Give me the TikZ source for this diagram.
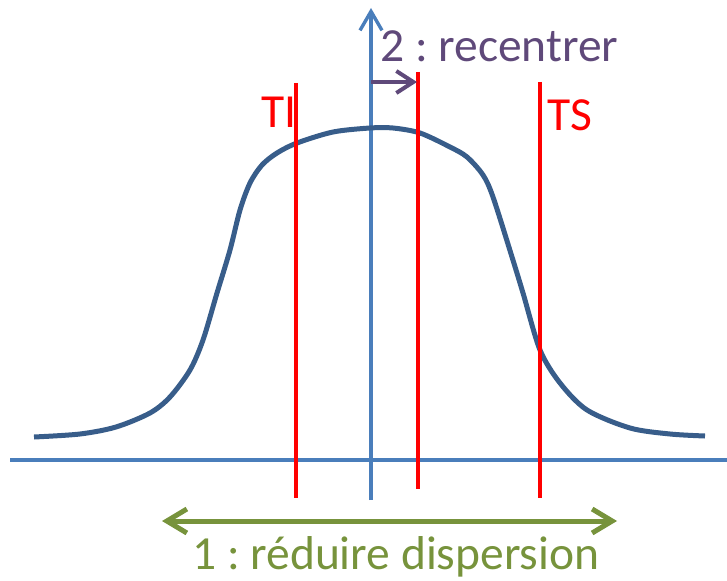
\documentclass[tikz,border=0pt]{standalone}
\usepackage{fontspec}
\setmainfont{Carlito}
\usetikzlibrary{arrows.meta}
\definecolor{axisblue}{HTML}{4A7EBB}
\definecolor{curveblue}{HTML}{385D8A}
\definecolor{limred}{HTML}{FF0000}
\definecolor{purp}{HTML}{5F497A}
\definecolor{grn}{HTML}{77933C}
\tikzset{
  axisline/.style={draw=axisblue, line width=3.6pt},
  limline/.style={draw=limred, line width=3.4pt},
  lbl/.style={inner sep=0pt, anchor=base west, font=\fontsize{47.5pt}{50pt}\selectfont}
}
\frenchspacing
\begin{document}
\begin{tikzpicture}[x=1pt, y=-1pt]
\useasboundingbox (0,0) rectangle (727,580);
% coordinates
\coordinate (hl) at (10,460);
\coordinate (hr) at (727,460);
\coordinate (vb) at (371,500);
\coordinate (vt) at (371,8);
\coordinate (tit) at (296,83);
\coordinate (tib) at (296,498);
\coordinate (mt) at (418,72);
\coordinate (mb) at (418,489);
\coordinate (tst) at (540,82);
\coordinate (tsb) at (540,498);
\coordinate (pa) at (371,82);
\coordinate (pb) at (417,82);
\coordinate (ga) at (162,521);
\coordinate (gb) at (617,521);
% axes
\draw[axisline] (hl) -- (hr);
\draw[axisline, -{Straight Barb[length=19pt, width=22pt, line width=3.4pt]}] (vb) -- (vt);
% curve
\draw[curveblue, line width=5pt]
  plot[smooth, tension=0.5] coordinates {
  (34,437) (80,434) (116,427) (150,413) (170,397) (190,370) (203,340)
  (217,293) (230,250) (240,210) (250,183) (262,165) (277,153) (297,143)
  (333,132) (370,128) (393,128) (420,133) (450,147) (467,157) (483,175)
  (493,197) (512,257) (523,293) (540,350) (560,383) (587,410) (630,428)
  (670,434) (705,436)};
% red limit lines
\draw[limline] (tit) -- (tib);
\draw[limline] (mt) -- (mb);
\draw[limline] (tst) -- (tsb);
% arrows
\draw[purp, line width=4pt, -{Straight Barb[length=17pt, width=22pt, line width=4pt]}] (pa) -- (pb);
\draw[grn, line width=5pt, {Straight Barb[length=20pt, width=24pt, line width=5pt]}-{Straight Barb[length=20pt, width=24pt, line width=5pt]}] (ga) -- (gb);
% labels
\node[lbl, text=limred] (ti) at (261,128) {TI};
\node[lbl, text=limred] (ts) at (547,131) {TS};
\node[lbl, text=purp] (rec) at (380,62) {2 : recentrer};
\node[lbl, text=grn] (red) at (192,569) {1 : réduire dispersion};
\end{tikzpicture}
\end{document}
